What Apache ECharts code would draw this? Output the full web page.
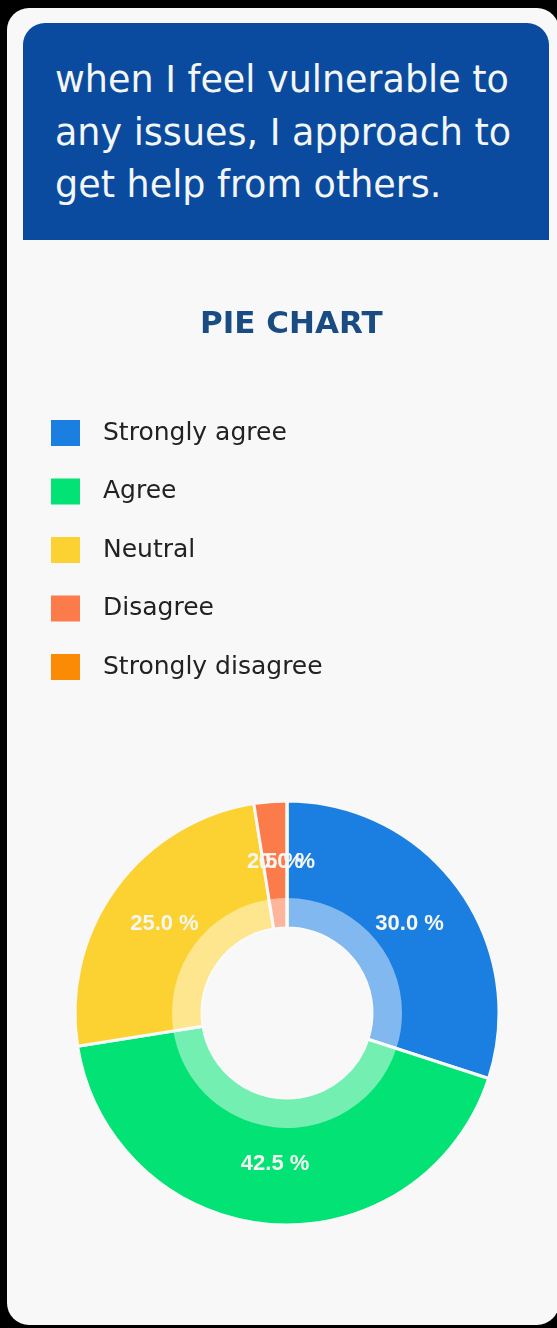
<!DOCTYPE html>
<html>
<head>
<meta charset="utf-8">
<script src="https://cdn.jsdelivr.net/npm/echarts@6/dist/echarts.min.js"></script>
<style>
  html, body { margin: 0; padding: 0; background: #000; }
  body { width: 557px; height: 1328px; position: relative; overflow: hidden; }
  #card {
    position: absolute; left: 7px; top: 8px; width: 552px; height: 1317px;
    background: #f8f8f8; border-radius: 22px;
  }
  #header {
    position: absolute; left: 23px; top: 23px; width: 526px; height: 217px;
    background: #0a4b9f; border-radius: 22px 22px 0 0;
    box-sizing: border-box; padding: 31px 0 0 32px;
    color: #f4f6f4; font-family: "DejaVu Sans", sans-serif; font-size: 36.5px; line-height: 52.5px;
    white-space: nowrap;
  }
  #chart { position: absolute; left: 0; top: 0; width: 557px; height: 1328px; }
</style>
</head>
<body>
<div id="card"></div>
<div id="header">when I feel vulnerable to<br>any issues, I approach to<br>get help from others.</div>
<div id="chart"></div>
<script>
// Survey answers and their share of responses (percent)
const categories = ['Strongly agree', 'Agree', 'Neutral', 'Disagree', 'Strongly disagree'];
const shares = [30.0, 42.5, 25.0, 2.5, 0.0];
const colors = ['#1b7fe2', '#03e274', '#fbd232', '#fb7b4b', '#fb8a04'];

const sliceData = categories.map((name, i) => ({ name: name, value: shares[i] }));

const ringCenter = [287, 1013];
const ringRadius = [85, 212];

const chart = echarts.init(document.getElementById('chart'), null, { renderer: 'canvas' });

chart.setOption({
  backgroundColor: 'transparent',
  color: colors,
  animation: false,
  title: {
    text: 'PIE CHART',
    left: 195,
    top: 304,
    textStyle: { fontFamily: 'DejaVu Sans', fontWeight: 'bold', fontSize: 31, color: '#1a4c84' }
  },
  legend: {
    orient: 'vertical',
    left: 44,
    top: 413,
    icon: 'rect',
    itemWidth: 31,
    itemHeight: 28,
    itemGap: 28.5,
    data: categories,
    selectedMode: false,
    textStyle: { fontFamily: 'DejaVu Sans', fontSize: 25, lineHeight: 28, color: '#222', padding: [0, 0, 0, 17] }
  },
  series: [
    {
      // coloured ring
      name: 'Responses',
      type: 'pie',
      center: ringCenter,
      radius: ringRadius,
      startAngle: 90,
      clockwise: true,
      silent: true,
      z: 2,
      data: sliceData,
      itemStyle: { borderColor: '#f8f8f8', borderWidth: 3 },
      label: { show: false },
      labelLine: { show: false }
    },
    {
      // pale inner band over the ring
      name: 'Band',
      type: 'pie',
      center: ringCenter,
      radius: [85, 115],
      startAngle: 90,
      clockwise: true,
      silent: true,
      z: 3,
      data: sliceData,
      itemStyle: { color: 'rgba(255,255,255,0.45)', borderWidth: 0 },
      label: { show: false },
      labelLine: { show: false }
    },
    {
      // percentage labels on top of everything
      name: 'Labels',
      type: 'pie',
      center: ringCenter,
      radius: ringRadius,
      startAngle: 90,
      clockwise: true,
      silent: true,
      z: 4,
      minShowLabelAngle: 0,
      avoidLabelOverlap: false,
      labelLayout: { hideOverlap: false },
      data: sliceData,
      itemStyle: { color: 'rgba(0,0,0,0)', borderWidth: 0 },
      label: {
        show: true,
        position: 'inside',
        formatter: p => p.value.toFixed(1) + ' %',
        fontFamily: 'Liberation Sans, Arial, sans-serif',
        fontWeight: 'bold',
        fontSize: 22,
        color: '#f6f6f2'
      },
      labelLine: { show: false }
    }
  ]
});
</script>
</body>
</html>
